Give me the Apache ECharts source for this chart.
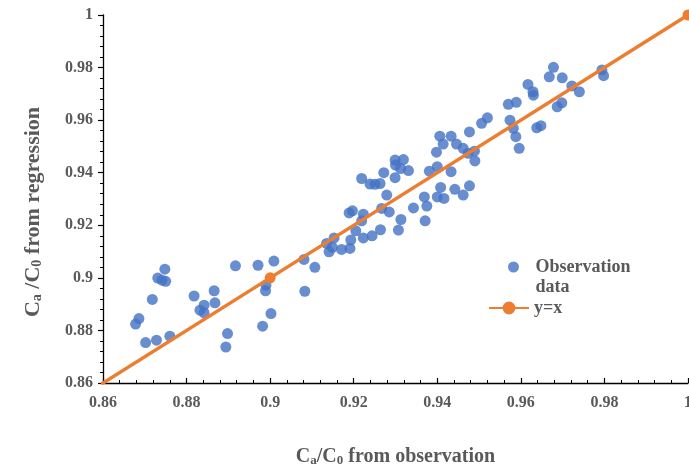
<!DOCTYPE html>
<html>
<head>
<meta charset="utf-8">
<script src="https://cdn.jsdelivr.net/npm/echarts@6/dist/echarts.min.js"></script>
<style>
html,body{margin:0;padding:0;background:#fff;}
#chart{width:689px;height:470px;}
</style>
</head>
<body>
<div id="chart"></div>
<script>
const obsX = [
0.8748,0.8731,0.8741,0.8750,0.8917,0.8971,0.9009,0.8990,0.8989,0.9002,0.8982,0.8718,0.8686,0.8678,0.8702,0.8728,0.8760,0.8818,0.8866,0.8868,0.8842,0.8832,0.8842,0.8898,0.8894,
0.9081,0.9107,0.9083,0.9135,0.9153,0.9141,0.9149,0.9171,0.9191,0.9193,0.9205,0.9223,0.9244,0.9264,0.9189,0.9197,0.9223,0.9219,0.9267,0.9285,0.9279,0.9219,0.9239,0.9251,0.9263,0.9272,0.9299,0.9299,0.9300,0.9319,0.9312,0.9331,0.9313,0.9307,
0.9343,0.9369,0.9375,0.9371,0.9381,0.9400,0.9433,0.9398,0.9406,0.9433,0.9414,0.9446,0.9462,0.9474,0.9489,0.9490,0.9408,0.9400,0.9416,0.9442,0.9462,0.9477,0.9506,0.9520,0.9477,
0.9570,0.9589,0.9574,0.9582,0.9588,0.9596,0.9638,0.9648,0.9678,0.9668,0.9699,0.9617,0.9629,0.9630,0.9794,0.9798,0.9722,0.9740,0.9698,0.9687
];
const obsY = [
0.9033,0.8999,0.8991,0.8987,0.9046,0.9048,0.9064,0.8972,0.8951,0.8864,0.8816,0.8918,0.8845,0.8824,0.8754,0.8763,0.8778,0.8931,0.8951,0.8905,0.8896,0.8877,0.8867,0.8788,0.8737,
0.9070,0.9040,0.8949,0.9131,0.9152,0.9099,0.9116,0.9108,0.9112,0.9144,0.9179,0.9152,0.9160,0.9183,0.9247,0.9255,0.9242,0.9217,0.9264,0.9251,0.9315,0.9378,0.9357,0.9356,0.9359,0.9400,0.9381,0.9448,0.9429,0.9450,0.9416,0.9408,0.9222,0.9182,
0.9266,0.9308,0.9273,0.9217,0.9406,0.9423,0.9404,0.9478,0.9539,0.9539,0.9509,0.9509,0.9493,0.9474,0.9482,0.9445,0.9344,0.9308,0.9302,0.9337,0.9315,0.9350,0.9588,0.9609,0.9555,
0.9660,0.9668,0.9600,0.9569,0.9537,0.9493,0.9571,0.9579,0.9801,0.9765,0.9761,0.9736,0.9708,0.9695,0.9791,0.9769,0.9730,0.9708,0.9666,0.9651
];
const lineX = [0.8, 0.9, 1.0];
const lineY = [0.8, 0.9, 1.0];
const axisMin = 0.86, axisMax = 1.0, axisStep = 0.02;

const FONT = "'Liberation Serif','Times New Roman',serif";
const GRAY = '#595959';

const chart = echarts.init(document.getElementById('chart'), null, {renderer: 'canvas'});
const fmt = v => String(+v.toFixed(2));
const xTitleRich = {
  m: {fontFamily: FONT, fontWeight: 'bold', fontSize: 20, color: GRAY, lineHeight: 24, verticalAlign: 'bottom'},
  s: {fontFamily: FONT, fontWeight: 'bold', fontSize: 13, color: GRAY, lineHeight: 12, verticalAlign: 'bottom'}
};
const yTitleRich = {
  m: {fontFamily: FONT, fontWeight: 'bold', fontSize: 22, color: GRAY, lineHeight: 26, verticalAlign: 'bottom'},
  s: {fontFamily: FONT, fontWeight: 'bold', fontSize: 14, color: GRAY, lineHeight: 13, verticalAlign: 'bottom'}
};
const axisCommon = {
  type: 'value', min: axisMin, max: axisMax, interval: axisStep,
  splitLine: {show: false},
  axisLine: {show: true, onZero: false, lineStyle: {color: '#000', width: 1.3}},
  minorTick: {show: true, splitNumber: 5, length: 3, lineStyle: {color: '#000', width: 1}},
  axisLabel: {fontFamily: FONT, fontWeight: 'bold', fontSize: 16, color: GRAY, formatter: fmt}
};
const legendText = {fontFamily: FONT, fontWeight: 'bold', fontSize: 18, color: GRAY, lineHeight: 20};

chart.setOption({
  animation: false,
  backgroundColor: '#fff',
  grid: {left: 103, right: 1, top: 15, bottom: 87, containLabel: false, outerBoundsMode: 'none'},
  xAxis: Object.assign({}, axisCommon, {
    axisTick: {show: true, inside: true, length: 5, lineStyle: {color: '#000', width: 1.2}},
    axisLabel: Object.assign({}, axisCommon.axisLabel, {margin: 12, hideOverlap: false}),
    name: '{m|C}{s|a}{m|/C}{s|0}{m| from observation}',
    nameLocation: 'middle', nameGap: 60,
    nameTextStyle: {rich: xTitleRich}
  }),
  yAxis: Object.assign({}, axisCommon, {
    axisTick: {show: true, inside: false, length: 5, lineStyle: {color: '#000', width: 1.2}},
    axisLabel: Object.assign({}, axisCommon.axisLabel, {margin: 10}),
    name: '{m|C}{s|a}{m| /C}{s|0}{m| from regression}',
    nameLocation: 'middle', nameGap: 59, nameRotate: 90,
    nameTextStyle: {rich: yTitleRich, padding: [0, 26, 0, 0]}
  }),
  legend: [
    {
      left: 503, top: 232, orient: 'vertical',
      itemWidth: 34, itemHeight: 11,
      data: [{name: 'Observation data', icon: 'circle'}],
      formatter: () => '\nObservation\ndata',
      textStyle: legendText
    },
    {
      left: 483, top: 293, orient: 'vertical',
      itemWidth: 40, itemHeight: 16,
      data: ['y=x'],
      textStyle: legendText
    }
  ],
  series: [
    {
      name: 'Observation data', type: 'scatter',
      symbol: 'circle', symbolSize: 11,
      itemStyle: {color: '#4472C4'},
      data: obsX.map((x, i) => [x, obsY[i]])
    },
    {
      name: 'y=x', type: 'line', clip: true,
      symbol: 'circle', symbolSize: 11, showSymbol: true,
      lineStyle: {color: '#ED7D31', width: 3.5},
      itemStyle: {color: '#ED7D31'},
      data: lineX.map((x, i) => [x, lineY[i]])
    }
  ]
});
</script>
</body>
</html>
